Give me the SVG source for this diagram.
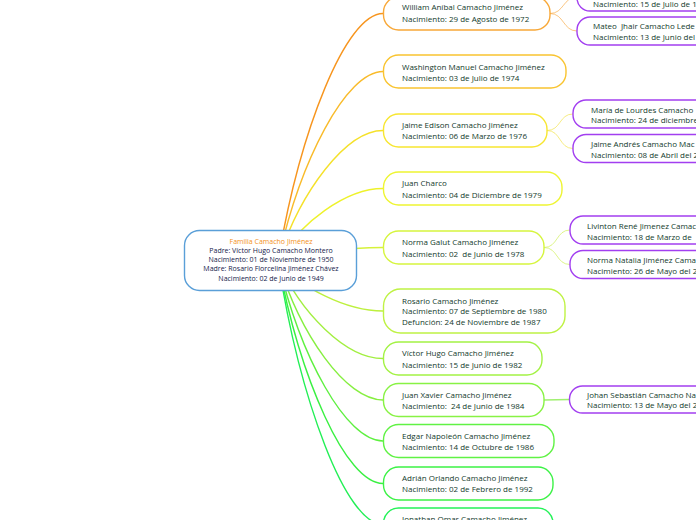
<svg xmlns="http://www.w3.org/2000/svg" width="696" height="520" viewBox="0 0 696 520">
<style>
text{font-family:"Open Sans","Noto Sans","Liberation Sans",sans-serif;}
.c{font-size:8px;fill:#123a2b;}
.g{font-size:8px;fill:#123a2b;}
.m{font-size:7px;fill:#15194a;text-anchor:middle;}
.t{fill:#f39019;}
.box{fill:#fff;stroke-width:1.4;}
.gb{fill:#fff;stroke:#a23ff0;stroke-width:1.4;}
.ln{fill:none;stroke-width:1.4;}
.sl{fill:none;stroke-width:1;opacity:0.6;}
</style>
<rect width="696" height="520" fill="#fff"/>
<g id="connectors">
<path class="ln" stroke="#f7951e" d="M278,261 C300,130 346,13.5 383,13.5"/>
<path class="ln" stroke="#f9bb2a" d="M278,261 C300,160.6 346,71.5 383,71.5"/>
<path class="ln" stroke="#f5e12a" d="M278,261 C300,191.8 346,130.5 383,130.5"/>
<path class="ln" stroke="#eef22a" d="M278,261 C300,222.6 346,188.5 383,188.5"/>
<path class="ln" stroke="#d6f23a" d="M278,261 C300,253.8 346,247.5 383,247.5"/>
<path class="ln" stroke="#bdf03e" d="M278,261 C300,287.5 346,311 383,311"/>
<path class="ln" stroke="#a2ef40" d="M278,261 C300,312.7 346,358.5 383,358.5"/>
<path class="ln" stroke="#86ef40" d="M278,261 C300,334.7 346,400 383,400"/>
<path class="ln" stroke="#5ef040" d="M278,261 C300,356.4 346,441 383,441"/>
<path class="ln" stroke="#3af042" d="M278,261 C300,378.9 346,483.5 383,483.5"/>
<path class="ln" stroke="#22ef55" d="M278,261 C300,400.7 346,524.5 383,524.5"/>
<path class="sl" stroke="#f7a030" d="M550,13.5 C564,13.5 563,-3 577,-3"/>
<path class="sl" stroke="#f7a030" d="M550,13.5 C564,13.5 563,31 577,31"/>
<path class="sl" stroke="#f0e030" d="M547,130.5 C561,130.5 559,114 573,114"/>
<path class="sl" stroke="#f0e030" d="M547,130.5 C561,130.5 559,148.5 573,148.5"/>
<path class="sl" stroke="#c8ee40" d="M544,247.5 C558,247.5 556,230 570,230"/>
<path class="sl" stroke="#c8ee40" d="M544,247.5 C558,247.5 556,264.5 570,264.5"/>
<path class="ln" stroke="#a0f070" d="M544,400 L569,399.5"/>
</g>
<g id="root">
<rect class="box" stroke="#5a9fd8" x="184.5" y="230.5" width="172" height="60" rx="15"/>
<text class="m t" x="271" y="243.5">Familia Camacho Jiménez</text>
<text class="m" x="271" y="252.8">Padre: Víctor Hugo Camacho Montero</text>
<text class="m" x="271" y="262.1">Nacimiento: 01 de Noviembre de 1950</text>
<text class="m" x="271" y="271.4">Madre: Rosario Florcelina Jiménez Chávez</text>
<text class="m" x="271" y="280.7">Nacimiento: 02 de Junio de 1949</text>
</g>
<g id="william">
<rect class="box" stroke="#f8a838" x="383.5" y="-3" width="166.5" height="33" rx="15"/>
<text class="c" x="402" y="10.3">William Aníbal Camacho Jiménez</text>
<text class="c" x="402" y="21.8">Nacimiento: 29 de Agosto de 1972</text>
</g>
<g id="washington">
<rect class="box" stroke="#f9c430" x="383.5" y="55" width="182.5" height="33" rx="15"/>
<text class="c" x="402" y="70.3">Washington Manuel Camacho Jiménez</text>
<text class="c" x="402" y="81.3">Nacimiento: 03 de Julio de 1974</text>
</g>
<g id="jaime">
<rect class="box" stroke="#f7e631" x="383.5" y="114" width="163.5" height="33" rx="15"/>
<text class="c" x="402" y="128">Jaime Edison Camacho Jiménez</text>
<text class="c" x="402" y="139">Nacimiento: 06 de Marzo de 1976</text>
</g>
<g id="juancharco">
<rect class="box" stroke="#eef532" x="383.5" y="172" width="178.5" height="33" rx="15"/>
<text class="c" x="402" y="186.3">Juan Charco</text>
<text class="c" x="402" y="197.8">Nacimiento: 04 de Diciembre de 1979</text>
</g>
<g id="norma">
<rect class="box" stroke="#d6f53e" x="383.5" y="231" width="160.5" height="33" rx="15"/>
<text class="c" x="402" y="245.3">Norma Galut Camacho Jiménez</text>
<text class="c" x="402" y="256.5" xml:space="preserve">Nacimiento: 02  de Junio de 1978</text>
</g>
<g id="rosario">
<rect class="box" stroke="#bff244" x="383.5" y="289" width="181.5" height="44" rx="17"/>
<text class="c" x="402" y="303.7">Rosario Camacho Jiménez</text>
<text class="c" x="402" y="314.4">Nacimiento: 07 de Septiembre de 1980</text>
<text class="c" x="402" y="325">Defunción: 24 de Noviembre de 1987</text>
</g>
<g id="victor">
<rect class="box" stroke="#a3f244" x="383.5" y="342" width="158.5" height="33" rx="15"/>
<text class="c" x="402" y="356.3">Víctor Hugo Camacho Jiménez</text>
<text class="c" x="402" y="367.5">Nacimiento: 15 de Junio de 1982</text>
</g>
<g id="juanxavier">
<rect class="box" stroke="#88f244" x="383.5" y="383.5" width="160.5" height="33" rx="15"/>
<text class="c" x="402" y="398">Juan Xavier Camacho Jiménez</text>
<text class="c" x="402" y="409.2" xml:space="preserve">Nacimiento:  24 de Junio de 1984</text>
</g>
<g id="edgar">
<rect class="box" stroke="#60f244" x="383.5" y="424.5" width="170.5" height="33" rx="15"/>
<text class="c" x="402" y="439">Edgar Napoleón Camacho Jiménez</text>
<text class="c" x="402" y="450">Nacimiento: 14 de Octubre de 1986</text>
</g>
<g id="adrian">
<rect class="box" stroke="#3cf246" x="383.5" y="467" width="169.5" height="33" rx="15"/>
<text class="c" x="402" y="481.3">Adrián Orlando Camacho Jiménez</text>
<text class="c" x="402" y="492.3">Nacimiento: 02 de Febrero de 1992</text>
</g>
<g id="jonathan">
<rect class="box" stroke="#24f258" x="383.5" y="508" width="169.5" height="33" rx="15"/>
<text class="c" x="402" y="521.5">Jonathan Omar Camacho Jiménez</text>
</g>
<g id="g-william-1">
<rect class="gb" x="577" y="-17" width="140" height="28" rx="13"/>
<text class="g" x="593" y="6.5">Nacimiento: 15 de Julio de 1</text>
</g>
<g id="g-mateo">
<rect class="gb" x="577" y="17" width="140" height="28" rx="13"/>
<text class="g" x="593" y="29" xml:space="preserve">Mateo  Jhair Camacho Lede</text>
<text class="g" x="593" y="39.8">Nacimiento: 13 de Junio del</text>
</g>
<g id="g-maria">
<rect class="gb" x="573" y="100" width="140" height="28" rx="13"/>
<text class="g" x="591" y="112.5">María de Lourdes Camacho</text>
<text class="g" x="591" y="123.3">Nacimiento: 24 de diciembre</text>
</g>
<g id="g-jaimeandres">
<rect class="gb" x="573" y="134.5" width="140" height="28" rx="13"/>
<text class="g" x="591" y="146.5">Jaime Andrés Camacho Mac</text>
<text class="g" x="591" y="157.5">Nacimiento: 08 de Abril del 2</text>
</g>
<g id="g-livinton">
<rect class="gb" x="570" y="216" width="140" height="28" rx="13"/>
<text class="g" x="587" y="228.8">Livinton René Jimenez Camac</text>
<text class="g" x="587" y="239.6">Nacimiento: 18 de Marzo de</text>
</g>
<g id="g-normanatalia">
<rect class="gb" x="570" y="250.5" width="140" height="28" rx="13"/>
<text class="g" x="587" y="263">Norma Natalia Jiménez Cama</text>
<text class="g" x="587" y="273.8">Nacimiento: 26 de Mayo del 2</text>
</g>
<g id="g-johan">
<rect class="gb" x="569.5" y="386" width="140" height="27" rx="13"/>
<text class="g" x="587" y="398">Johan Sebastián Camacho Na</text>
<text class="g" x="587" y="408.2">Nacimiento: 13 de Mayo del 2</text>
</g>
</svg>
